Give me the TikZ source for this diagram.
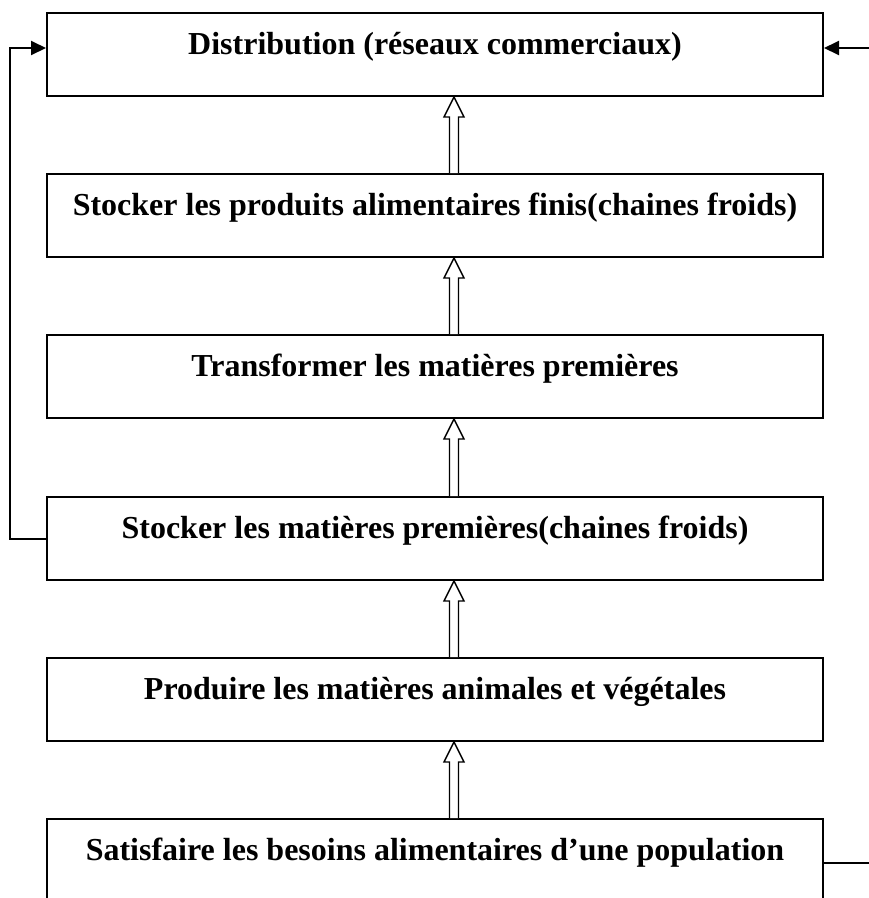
\documentclass[tikz,border=0pt]{standalone}
\usepackage{fontspec}
\setmainfont{Liberation Serif}
\usetikzlibrary{arrows.meta,calc}
\newcommand\hollowup[2]{%
  \draw[hollow] let \p1=($(#1.north)+(19,0)$), \p2=($(#2.south)+(19,0)$) in
  (\x1-4.5pt,\y1) -- (\x1-4.5pt,\y2-20pt) -- (\x1-10pt,\y2-20pt) -- (\x1,\y2)
  -- (\x1+10pt,\y2-20pt) -- (\x1+4.5pt,\y2-20pt) -- (\x1+4.5pt,\y1);}
\begin{document}
\begin{tikzpicture}[x=1pt,y=-1pt,
  box/.style={draw,line width=2pt,minimum width=776pt,minimum height=83pt,
    inner sep=0pt,text height=41pt,text depth=42pt,anchor=north west,
    font=\fontsize{32}{38}\selectfont\bfseries},
  link/.style={line width=2pt},
  tip/.style={-{Triangle[length=15pt,width=14pt]}},
  hollow/.style={draw,fill=white,line width=1.4pt,line join=miter}]
\clip (0,0) rectangle (869,898);
\node[box] (b1) at (46,12) {Distribution (réseaux commerciaux)};
\node[box] (b2) at (46,173) {Stocker les produits alimentaires finis(chaines froids)};
\node[box] (b3) at (46,334) {Transformer les matières premières};
\node[box] (b4) at (46,496) {Stocker les matières premières(chaines froids)};
\node[box] (b5) at (46,657) {Produire les matières animales et végétales};
\node[box] (b6) at (46,818) {Satisfaire les besoins alimentaires d’une population};
\hollowup{b2}{b1}
\hollowup{b3}{b2}
\hollowup{b4}{b3}
\hollowup{b5}{b4}
\hollowup{b6}{b5}
\coordinate (rin) at (869,48);
\coordinate (lx) at (9.5,48);
\coordinate (rout) at (869,863);
\draw[link,tip] (rin) -- (rin -| b1.east);
\draw[link,tip] (b4.west) -| (lx) -- (lx -| b1.west);
\draw[line width=1.6pt] (b6.east |- rout) -- (rout);
\end{tikzpicture}
\end{document}
